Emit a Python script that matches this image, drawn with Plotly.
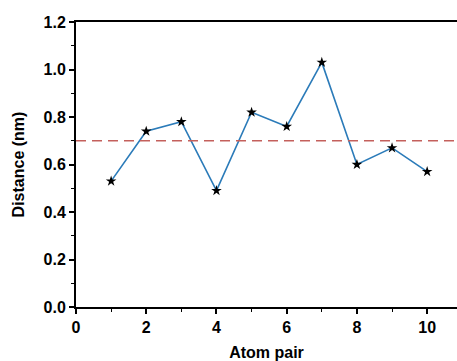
import plotly.graph_objects as go

atom_pair = [1, 2, 3, 4, 5, 6, 7, 8, 9, 10]
distance = [0.53, 0.74, 0.78, 0.49, 0.82, 0.76, 1.03, 0.60, 0.67, 0.57]
threshold = 0.7
x_ticks = [0, 2, 4, 6, 8, 10]
y_ticks = [0.0, 0.2, 0.4, 0.6, 0.8, 1.0, 1.2]

font = "Liberation Sans, Arial, sans-serif"

fig = go.Figure()
fig.add_trace(go.Scatter(
    x=atom_pair, y=distance, mode="lines+markers",
    line=dict(color="#2b7bb9", width=1.6),
    marker=dict(symbol="star", color="black", size=8),
    showlegend=False,
))
fig.add_hline(y=threshold, line=dict(color="#c4605c", width=1.5, dash="10px,6px"))

fig.update_layout(
    width=457, height=361,
    margin=dict(l=76, r=0, t=22, b=54),
    plot_bgcolor="white", paper_bgcolor="white",
    font=dict(family=font, size=16, color="black"),
)
fig.update_xaxes(
    range=[0, 10.85], tickvals=x_ticks,
    showline=True, linecolor="black", linewidth=2, mirror=True,
    ticks="outside", ticklen=5, tickwidth=1.5, tickcolor="black",
    minor=dict(dtick=1, ticks="outside", ticklen=3, tickwidth=1.2, tickcolor="black", showgrid=False),
    showgrid=False, zeroline=False,
    tickfont=dict(family=font, size=16, color="black", weight="bold"),
    title=dict(text="<b>Atom pair</b>", font=dict(family=font, size=16), standoff=12),
)
fig.update_yaxes(
    range=[0, 1.2], tickvals=y_ticks, tickformat=".1f",
    showline=True, linecolor="black", linewidth=2,
    ticks="outside", ticklen=5, tickwidth=1.5, tickcolor="black",
    minor=dict(dtick=0.1, ticks="outside", ticklen=3, tickwidth=1.2, tickcolor="black", showgrid=False),
    showgrid=False, zeroline=False,
    tickfont=dict(family=font, size=16, color="black", weight="bold"),
    title=dict(text="<b>Distance (nm)</b>", font=dict(family=font, size=16), standoff=15),
)

fig.write_html("out.html")
